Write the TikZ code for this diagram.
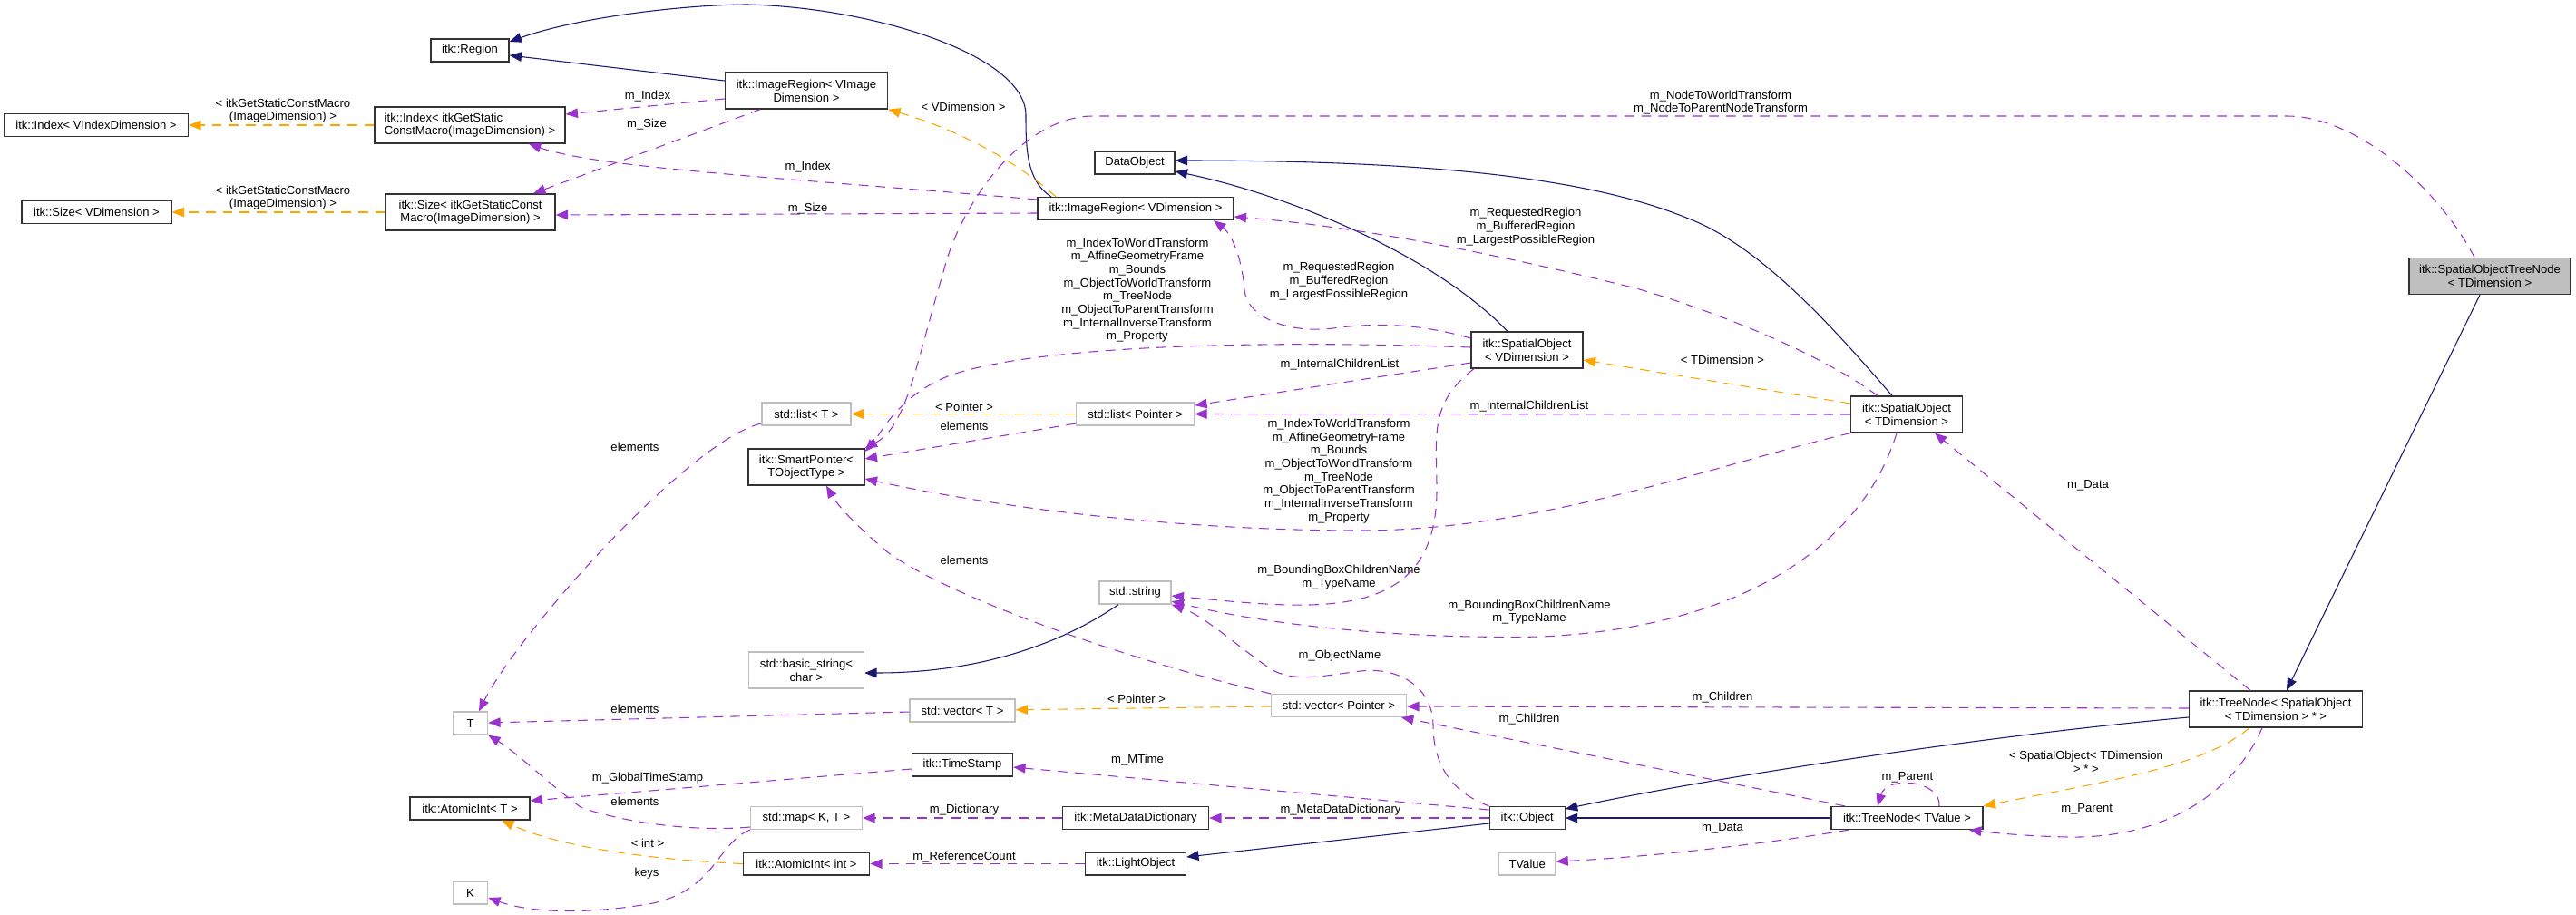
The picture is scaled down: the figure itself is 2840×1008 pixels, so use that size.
\documentclass[tikz,border=0pt]{standalone}
\usepackage{fontspec}
\setmainfont{Liberation Sans}
\usetikzlibrary{arrows.meta}
\definecolor{mblue}{RGB}{25,25,112}
\definecolor{purp}{RGB}{154,50,205}
\definecolor{orng}{RGB}{255,165,0}
\definecolor{lgray}{RGB}{191,191,191}
\begin{document}
\begin{tikzpicture}[x=0.75pt,y=-0.75pt,every node/.style={font=\fontsize{9.8}{11}\selectfont},
  cls/.style={draw=black!80,line width=1pt,fill=white,inner sep=0pt,align=center,minimum height=18.75pt,minimum width=#1*0.75pt},
  ext/.style={cls=#1,draw=lgray},
  two/.style={minimum height=30pt},
  lbl/.style={inner sep=0pt,align=center},
  inh/.style={draw=mblue,line width=0.8pt,-{Triangle[length=10pt,width=8pt]}},
  mem/.style={draw=purp,line width=0.8pt,dash pattern=on 8pt off 6pt,-{Triangle[length=10pt,width=8pt]}},
  tpl/.style={draw=orng,line width=0.8pt,dash pattern=on 8pt off 6pt,-{Triangle[length=10pt,width=8pt]}}]
\useasboundingbox (0,0) rectangle (2840,1008);
% classes
\node[cls=86] (reg) at (518,55.5) {itk::Region};
\node[cls=203] (idxv) at (106,138) {itk::Index< VIndexDimension >};
\node[cls=210,two,align=left] (idxm) at (518,138) {itk::Index< itkGetStatic\\ConstMacro(ImageDimension) >};
\node[cls=165] (sizv) at (106.5,234) {itk::Size< VDimension >};
\node[cls=187,two] (sizm) at (518.6,234) {itk::Size< itkGetStaticConst\\Macro(ImageDimension) >};
\node[cls=179,two] (irvi) at (889,100) {itk::ImageRegion< VImage\\Dimension >};
\node[cls=88] (dobj) at (1251,179.5) {DataObject};
\node[cls=216] (irv) at (1252,230) {itk::ImageRegion< VDimension >};
\node[cls=178,two,fill=lgray] (sotn) at (2745,304.5) {itk::SpatialObjectTreeNode\\< TDimension >};
\node[cls=123,two] (sov) at (1683.5,386) {itk::SpatialObject\\< VDimension >};
\node[cls=123,two] (sot) at (2102,457) {itk::SpatialObject\\< TDimension >};
\node[ext=98] (lstt) at (889,456.5) {std::list< T >};
\node[ext=130] (lstp) at (1251.6,456.5) {std::list< Pointer >};
\node[cls=128,two] (sptr) at (889,515) {itk::SmartPointer<\\TObjectType >};
\node[ext=79] (str) at (1251.5,653.5) {std::string};
\node[ext=127,two] (bstr) at (889,739) {std::basic\_string<\\char >};
\node[ext=116] (vect) at (1061,783.5) {std::vector< T >};
\node[ext=149] (vecp) at (1476,778) {std::vector< Pointer >};
\node[cls=111] (tstamp) at (1061,843.5) {itk::TimeStamp};
\node[ext=123] (map) at (889,902) {std::map< K, T >};
\node[cls=161] (mdd) at (1252,902) {itk::MetaDataDictionary};
\node[cls=139] (aint) at (889,952.5) {itk::AtomicInt< int >};
\node[cls=132] (aT) at (518,891.5) {itk::AtomicInt< T >};
\node[ext=38] (T) at (518.6,797.5) {T};
\node[ext=38] (K) at (518.6,984.5) {K};
\node[cls=111] (lobj) at (1252,952.5) {itk::LightObject};
\node[cls=83] (obj) at (1683.7,902) {itk::Object};
\node[ext=62] (tval) at (1683.7,952.5) {TValue};
\node[cls=167] (tnv) at (2102.5,902) {itk::TreeNode< TValue >};
\node[cls=191,two] (tnso) at (2509,782) {itk::TreeNode< SpatialObject\\< TDimension > * >};
% inheritance
\draw[inh] (irvi.west |- 0,89) -- (reg.east |- 0,61);
\draw[inh] (irv.north -| 1159,0) .. controls (1131,200) and (1131,160) .. (1131,127) .. controls (1131,60) and (960,8) .. (824,5) .. controls (760,5) and (640,18) .. (reg.east |- 0,46);
\draw[inh] (sov.north -| 1662,0) .. controls (1580,280) and (1420,215) .. (dobj.east |- 0,189);
\draw[inh] (sot.north -| 2086,0) .. controls (2020,360) and (1940,270) .. (1859,240) .. controls (1760,200) and (1600,177) .. (dobj.east |- 0,177);
\draw[inh] (str.south -| 1233,0) .. controls (1170,710) and (1080,742) .. (bstr.east |- 0,742);
\draw[inh] (obj.west |- 0,908) -- (lobj.east |- 0,945);
\draw[inh] (tnv.west) -- (obj.east);
\draw[inh] (tnso.west |- 0,791) .. controls (2200,810) and (1900,855) .. (obj.east |- 0,892);
\draw[inh] (sotn.south -| 2734,0) -- (tnso.north -| 2521,0);
% templates
\draw[tpl] (idxm) -- (idxv);
\draw[tpl] (sizm) -- (sizv);
\draw[tpl] (irv.north -| 1164,0) .. controls (1140,195) and (1080,150) .. (irvi.south east);
\draw[tpl] (sot.west |- 0,445) -- (sov.east |- 0,397);
\draw[tpl] (lstp) -- (lstt);
\draw[tpl] (vecp) -- (vect);
\draw[tpl] (aint.west) .. controls (720,948) and (620,935) .. (aT.south -| 553,0);
\draw[tpl] (tnso.south -| 2480,0) .. controls (2430,845) and (2330,860) .. (tnv.north east);
% members
\draw[mem] (irvi.west |- 0,109) -- (idxm.east |- 0,126);
\draw[mem] (irvi.south -| 838,0) -- (sizm.north -| 588,0);
\draw[mem] (irv.west |- 0,220) .. controls (850,195) and (660,185) .. (idxm.south -| 583,0);
\draw[mem] (irv.west |- 0,235) -- (sizm.east |- 0,237);
\draw[mem] (sov.west |- 0,373) .. controls (1570,358) and (1520,355) .. (1470,362) .. controls (1420,368) and (1375,350) .. (1372,320) .. controls (1370,290) and (1360,260) .. (irv.south -| 1338,0);
\draw[mem] (sot.north -| 2070,0) .. controls (2000,385) and (1880,340) .. (1804,318) .. controls (1650,280) and (1500,250) .. (irv.east |- 0,239);
\draw[mem] (sov.west |- 0,383) .. controls (1400,375) and (1150,380) .. (1050,413) .. controls (990,435) and (970,480) .. (sptr.east |- 0,498);
\draw[mem] (sot.south west) .. controls (1900,510) and (1700,585) .. (1500,585) .. controls (1300,585) and (1100,560) .. (sptr.east |- 0,528);
\draw[mem] (sov.west |- 0,400) -- (lstp.east |- 0,447);
\draw[mem] (sot.west) -- (lstp.east);
\draw[mem] (lstp.west |- 0,467) -- (sptr.east |- 0,506);
\draw[mem] (lstt.west |- 0,467) .. controls (760,485) and (570,700) .. (T.north -| 528,0);
\draw[mem] (sot.south -| 2091,0) .. controls (2060,580) and (1950,690) .. (1700,702) .. controls (1550,705) and (1400,690) .. (str.east |- 0,663);
\draw[mem] (sov.south -| 1625,0) .. controls (1575,445) and (1584,480) .. (1584,540) .. controls (1584,690) and (1450,672) .. (str.east |- 0,657);
\draw[mem] (vecp.north west) .. controls (1250,730) and (1050,660) .. (980,610) .. controls (950,585) and (925,560) .. (sptr.south -| 911,0);
\draw[mem] (vect) -- (T);
\draw[mem] (obj.north west) .. controls (1590,870) and (1580,830) .. (1580,800) .. controls (1580,760) and (1545,735) .. (1500,740) .. controls (1460,745) and (1430,752) .. (1405,740) .. controls (1375,722) and (1330,680) .. (str.south east);
\draw[mem] (tnv.north -| 2034,0) -- (vecp.south -| 1545,0);
\draw[mem] (tnso.west |- 0,781) -- (vecp.east |- 0,779);
\draw[mem] (obj.west |- 0,893) -- (tstamp.east |- 0,846);
\draw[mem] (obj) -- (mdd);
\draw[mem] (mdd) -- (map);
\draw[mem] (lobj) -- (aint);
\draw[mem] (tstamp.west |- 0,848) -- (aT.east |- 0,883);
\draw[mem] (map.west |- 0,912) .. controls (760,918) and (680,905) .. (640,890) .. controls (600,860) and (570,830) .. (T.south east);
\draw[mem] (map.south west) .. controls (790,930) and (790,980) .. (720,996) .. controls (640,1010) and (580,1005) .. (K.east |- 0,990);
\draw[mem] (tnv.south -| 2038,0) .. controls (1950,930) and (1820,945) .. (tval.east |- 0,950);
\draw[mem] (tnv.north -| 2138,0) .. controls (2140,860) and (2080,855) .. (tnv.north -| 2070,0);
\draw[mem] (tnso.south -| 2494,0) .. controls (2460,880) and (2380,925) .. (2280,923) .. controls (2230,922) and (2195,918) .. (tnv.south -| 2171,0);
\draw[mem] (tnso.north -| 2481,0) -- (sot.south -| 2133,0);
\draw[mem] (sotn.north -| 2728,0) .. controls (2690,210) and (2600,128) .. (2521,128) -- (1205,128) .. controls (1130,128) and (1060,220) .. (1040,300) .. controls (1010,400) and (1000,470) .. (sptr.north east);
% labels
\node[lbl] (lIdxA) at (312,122) {< itkGetStaticConstMacro\\(ImageDimension) >};
\node[lbl] (lSizA) at (312,218) {< itkGetStaticConstMacro\\(ImageDimension) >};
\node[lbl] (lIdxB) at (714,106) {m\_Index};
\node[lbl] (lSizB) at (713,137) {m\_Size};
\node[lbl] (lIdxC) at (890.6,184) {m\_Index};
\node[lbl] (lSizC) at (890.6,230) {m\_Size};
\node[lbl] (lVDim) at (1062,118) {< VDimension >};
\node[lbl] (lNode) at (1897,113) {m\_NodeToWorldTransform\\m\_NodeToParentNodeTransform};
\node[lbl] (lRegA) at (1682,250) {m\_RequestedRegion\\m\_BufferedRegion\\m\_LargestPossibleRegion};
\node[lbl] (lRegB) at (1476,310) {m\_RequestedRegion\\m\_BufferedRegion\\m\_LargestPossibleRegion};
\node[lbl] (lTrfA) at (1254,320) {m\_IndexToWorldTransform\\m\_AffineGeometryFrame\\m\_Bounds\\m\_ObjectToWorldTransform\\m\_TreeNode\\m\_ObjectToParentTransform\\m\_InternalInverseTransform\\m\_Property};
\node[lbl] (lTrfB) at (1476,519.5) {m\_IndexToWorldTransform\\m\_AffineGeometryFrame\\m\_Bounds\\m\_ObjectToWorldTransform\\m\_TreeNode\\m\_ObjectToParentTransform\\m\_InternalInverseTransform\\m\_Property};
\node[lbl] (lTDim) at (1899,397) {< TDimension >};
\node[lbl] (lIclA) at (1477,402) {m\_InternalChildrenList};
\node[lbl] (lIclB) at (1686,448) {m\_InternalChildrenList};
\node[lbl] (lPtrA) at (1063,449) {< Pointer >};
\node[lbl] (lElmA) at (1063,470) {elements};
\node[lbl] (lElmB) at (700,493) {elements};
\node[lbl] (lElmC) at (1063,618) {elements};
\node[lbl] (lBbcA) at (1476,636.5) {m\_BoundingBoxChildrenName\\m\_TypeName};
\node[lbl] (lBbcB) at (1686,675) {m\_BoundingBoxChildrenName\\m\_TypeName};
\node[lbl] (lDatA) at (2302,535) {m\_Data};
\node[lbl] (lObjN) at (1477,723) {m\_ObjectName};
\node[lbl] (lChlA) at (1899,769) {m\_Children};
\node[lbl] (lChlB) at (1686,793) {m\_Children};
\node[lbl] (lPtrB) at (1253,771) {< Pointer >};
\node[lbl] (lElmD) at (700,782) {elements};
\node[lbl] (lMtim) at (1254,838) {m\_MTime};
\node[lbl] (lGts) at (714,858) {m\_GlobalTimeStamp};
\node[lbl] (lElmE) at (700,884) {elements};
\node[lbl] (lMdd) at (1478,893) {m\_MetaDataDictionary};
\node[lbl] (lDict) at (1063,893) {m\_Dictionary};
\node[lbl] (lParA) at (2103,857) {m\_Parent};
\node[lbl] (lSoT) at (2300,840) {< SpatialObject< TDimension\\> * >};
\node[lbl] (lParB) at (2300.6,892.7) {m\_Parent};
\node[lbl] (lDatB) at (1899,913) {m\_Data};
\node[lbl] (lInt) at (714,930) {< int >};
\node[lbl] (lRef) at (1063,945) {m\_ReferenceCount};
\node[lbl] (lKeys) at (713,963) {keys};
\end{tikzpicture}
\end{document}
